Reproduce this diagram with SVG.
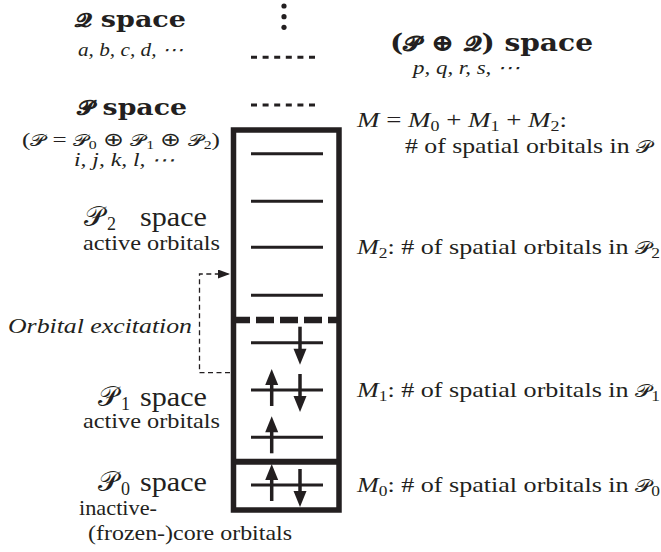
<svg xmlns="http://www.w3.org/2000/svg" width="661" height="552" viewBox="0 0 661 552">
<defs>
<style>
.t{fill:#231f20}
.b{font-weight:bold;fill:#231f20;font-family:"DejaVu Serif",serif}
.i{font-style:italic}
.orb{stroke:#231f20;stroke-width:3}
.wall{fill:none;stroke:#231f20;stroke-width:5.5}
.lvl{stroke:#231f20;stroke-width:3;stroke-dasharray:6 5.6}
.conn{fill:none;stroke:#231f20;stroke-width:1.3;stroke-dasharray:5 3.5}
</style>
<g id="up"><line x1="0" y1="-6" x2="0" y2="16" stroke="#231f20" stroke-width="3.5"/><polygon points="0,-21 6.5,-5 -6.5,-5" fill="#231f20"/></g>
<g id="dn"><line x1="0" y1="-16" x2="0" y2="7" stroke="#231f20" stroke-width="3.5"/><polygon points="0,22 6.5,6 -6.5,6" fill="#231f20"/></g>
<marker id="ah" markerUnits="userSpaceOnUse" markerWidth="12" markerHeight="9" refX="12" refY="4.5" orient="auto"><path d="M0,0 L12,4.5 L0,9 z" fill="#231f20"/></marker>
</defs>
<rect width="661" height="552" fill="#fff"/>

<g font-family="Liberation Serif, Times New Roman, serif">
<g id="q-space">
<text class="b" x="75" y="27" font-size="23" textLength="111" lengthAdjust="spacingAndGlyphs"><tspan font-size="20">𝓠</tspan> space</text>
<text class="t i" x="78" y="56" font-size="19" textLength="105" lengthAdjust="spacingAndGlyphs">a, b, c, d, ⋯</text>
<circle cx="284" cy="6" r="2.6" fill="#231f20"/>
<circle cx="284" cy="16.7" r="2.6" fill="#231f20"/>
<circle cx="284" cy="27.3" r="2.6" fill="#231f20"/>
<line class="lvl" x1="251" y1="57.3" x2="317" y2="57.3"/>
</g>

<g id="p-space">
<text class="b" x="77" y="115" font-size="23" textLength="110" lengthAdjust="spacingAndGlyphs"><tspan font-size="20">𝓟</tspan> space</text>
<text class="t" x="22" y="146" font-size="19" textLength="198" lengthAdjust="spacingAndGlyphs">(<tspan font-size="16">𝒫</tspan> = <tspan font-size="16">𝒫</tspan><tspan font-size="12" dy="3">0</tspan><tspan dy="-3"> ⊕ </tspan><tspan font-size="16">𝒫</tspan><tspan font-size="12" dy="3">1</tspan><tspan dy="-3"> ⊕ </tspan><tspan font-size="16">𝒫</tspan><tspan font-size="12" dy="3">2</tspan><tspan dy="-3">)</tspan></text>
<text class="t i" x="74" y="166" font-size="18" textLength="101" lengthAdjust="spacingAndGlyphs">i, j, k, l, ⋯</text>
<line class="lvl" x1="251" y1="105" x2="317" y2="105"/>
</g>

<g id="pq-space">
<text class="b" x="390" y="51" font-size="24" textLength="203" lengthAdjust="spacingAndGlyphs">(<tspan font-size="21">𝓟</tspan> ⊕ <tspan font-size="21">𝓠</tspan>) space</text>
<text class="t i" x="413" y="74" font-size="19" textLength="107" lengthAdjust="spacingAndGlyphs">p, q, r, s, ⋯</text>
</g>

<g id="box">
<rect class="wall" x="233.5" y="130" width="105.5" height="380"/>
<line x1="232" y1="320" x2="337" y2="320" stroke="#231f20" stroke-width="6.5" stroke-dasharray="18 6"/>
<line x1="233.5" y1="461.7" x2="339" y2="461.7" stroke="#231f20" stroke-width="6"/>
</g>

<g id="p2-space">
<text class="t" x="84" y="226" font-size="28"><tspan font-size="28">𝒫</tspan><tspan x="107" dy="4" font-size="18">2</tspan><tspan x="140" dy="-4" textLength="67" lengthAdjust="spacingAndGlyphs">space</tspan></text>
<text class="t" x="83" y="250" font-size="21" textLength="137" lengthAdjust="spacingAndGlyphs">active orbitals</text>
<line class="orb" x1="251" y1="153.7" x2="323" y2="153.7"/>
<line class="orb" x1="251" y1="201.3" x2="323" y2="201.3"/>
<line class="orb" x1="251" y1="247.3" x2="323" y2="247.3"/>
<line class="orb" x1="251" y1="295.3" x2="323" y2="295.3"/>
</g>

<g id="p1-space">
<text class="t" x="98" y="406" font-size="28"><tspan font-size="28">𝒫</tspan><tspan x="121" dy="4" font-size="18">1</tspan><tspan x="140" dy="-4" textLength="67" lengthAdjust="spacingAndGlyphs">space</tspan></text>
<text class="t" x="83" y="428" font-size="21" textLength="137" lengthAdjust="spacingAndGlyphs">active orbitals</text>
<line class="orb" x1="251" y1="342.7" x2="323" y2="342.7"/>
<line class="orb" x1="251" y1="390" x2="323" y2="390"/>
<line class="orb" x1="251" y1="437.3" x2="323" y2="437.3"/>
<use href="#dn" x="300" y="342.7"/>
<use href="#up" x="271.7" y="390"/>
<use href="#dn" x="300" y="390"/>
<use href="#up" x="271.7" y="437.3"/>
</g>

<g id="p0-space">
<text class="t" x="98" y="490.7" font-size="28"><tspan font-size="28">𝒫</tspan><tspan x="121" dy="4" font-size="18">0</tspan><tspan x="140" dy="-4" textLength="67" lengthAdjust="spacingAndGlyphs">space</tspan></text>
<text class="t" x="79" y="515" font-size="21" textLength="78" lengthAdjust="spacingAndGlyphs">inactive-</text>
<text class="t" x="88" y="540" font-size="21" textLength="204" lengthAdjust="spacingAndGlyphs">(frozen-)core orbitals</text>
<line class="orb" x1="251" y1="485" x2="323" y2="485"/>
<use href="#up" x="271.7" y="485"/>
<use href="#dn" x="300" y="485"/>
</g>

<g id="labels-right">
<text class="t" x="357" y="127" font-size="21" textLength="210" lengthAdjust="spacingAndGlyphs"><tspan class="i">M</tspan> = <tspan class="i">M</tspan><tspan font-size="14" dy="4">0</tspan><tspan dy="-4"> + </tspan><tspan class="i">M</tspan><tspan font-size="14" dy="4">1</tspan><tspan dy="-4"> + </tspan><tspan class="i">M</tspan><tspan font-size="14" dy="4">2</tspan><tspan dy="-4">:</tspan></text>
<text class="t" x="405" y="153" font-size="21" textLength="247" lengthAdjust="spacingAndGlyphs"># of spatial orbitals in <tspan font-size="18">𝒫</tspan></text>
<text class="t" x="357" y="254" font-size="21" textLength="303" lengthAdjust="spacingAndGlyphs"><tspan class="i">M</tspan><tspan font-size="14" dy="4">2</tspan><tspan dy="-4">: # of spatial orbitals in </tspan><tspan font-size="18">𝒫</tspan><tspan font-size="14" dy="4">2</tspan></text>
<text class="t" x="357" y="397" font-size="21" textLength="303" lengthAdjust="spacingAndGlyphs"><tspan class="i">M</tspan><tspan font-size="14" dy="4">1</tspan><tspan dy="-4">: # of spatial orbitals in </tspan><tspan font-size="18">𝒫</tspan><tspan font-size="14" dy="4">1</tspan></text>
<text class="t" x="357" y="492" font-size="21" textLength="303" lengthAdjust="spacingAndGlyphs"><tspan class="i">M</tspan><tspan font-size="14" dy="4">0</tspan><tspan dy="-4">: # of spatial orbitals in </tspan><tspan font-size="18">𝒫</tspan><tspan font-size="14" dy="4">0</tspan></text>
</g>

<g id="connectors">
<path class="conn" d="M230,372.7 H199.5 V274 H230" marker-end="url(#ah)"/>
<text class="t i" x="8" y="333" font-size="22" textLength="184" lengthAdjust="spacingAndGlyphs">Orbital excitation</text>
</g>
</g>
</svg>
